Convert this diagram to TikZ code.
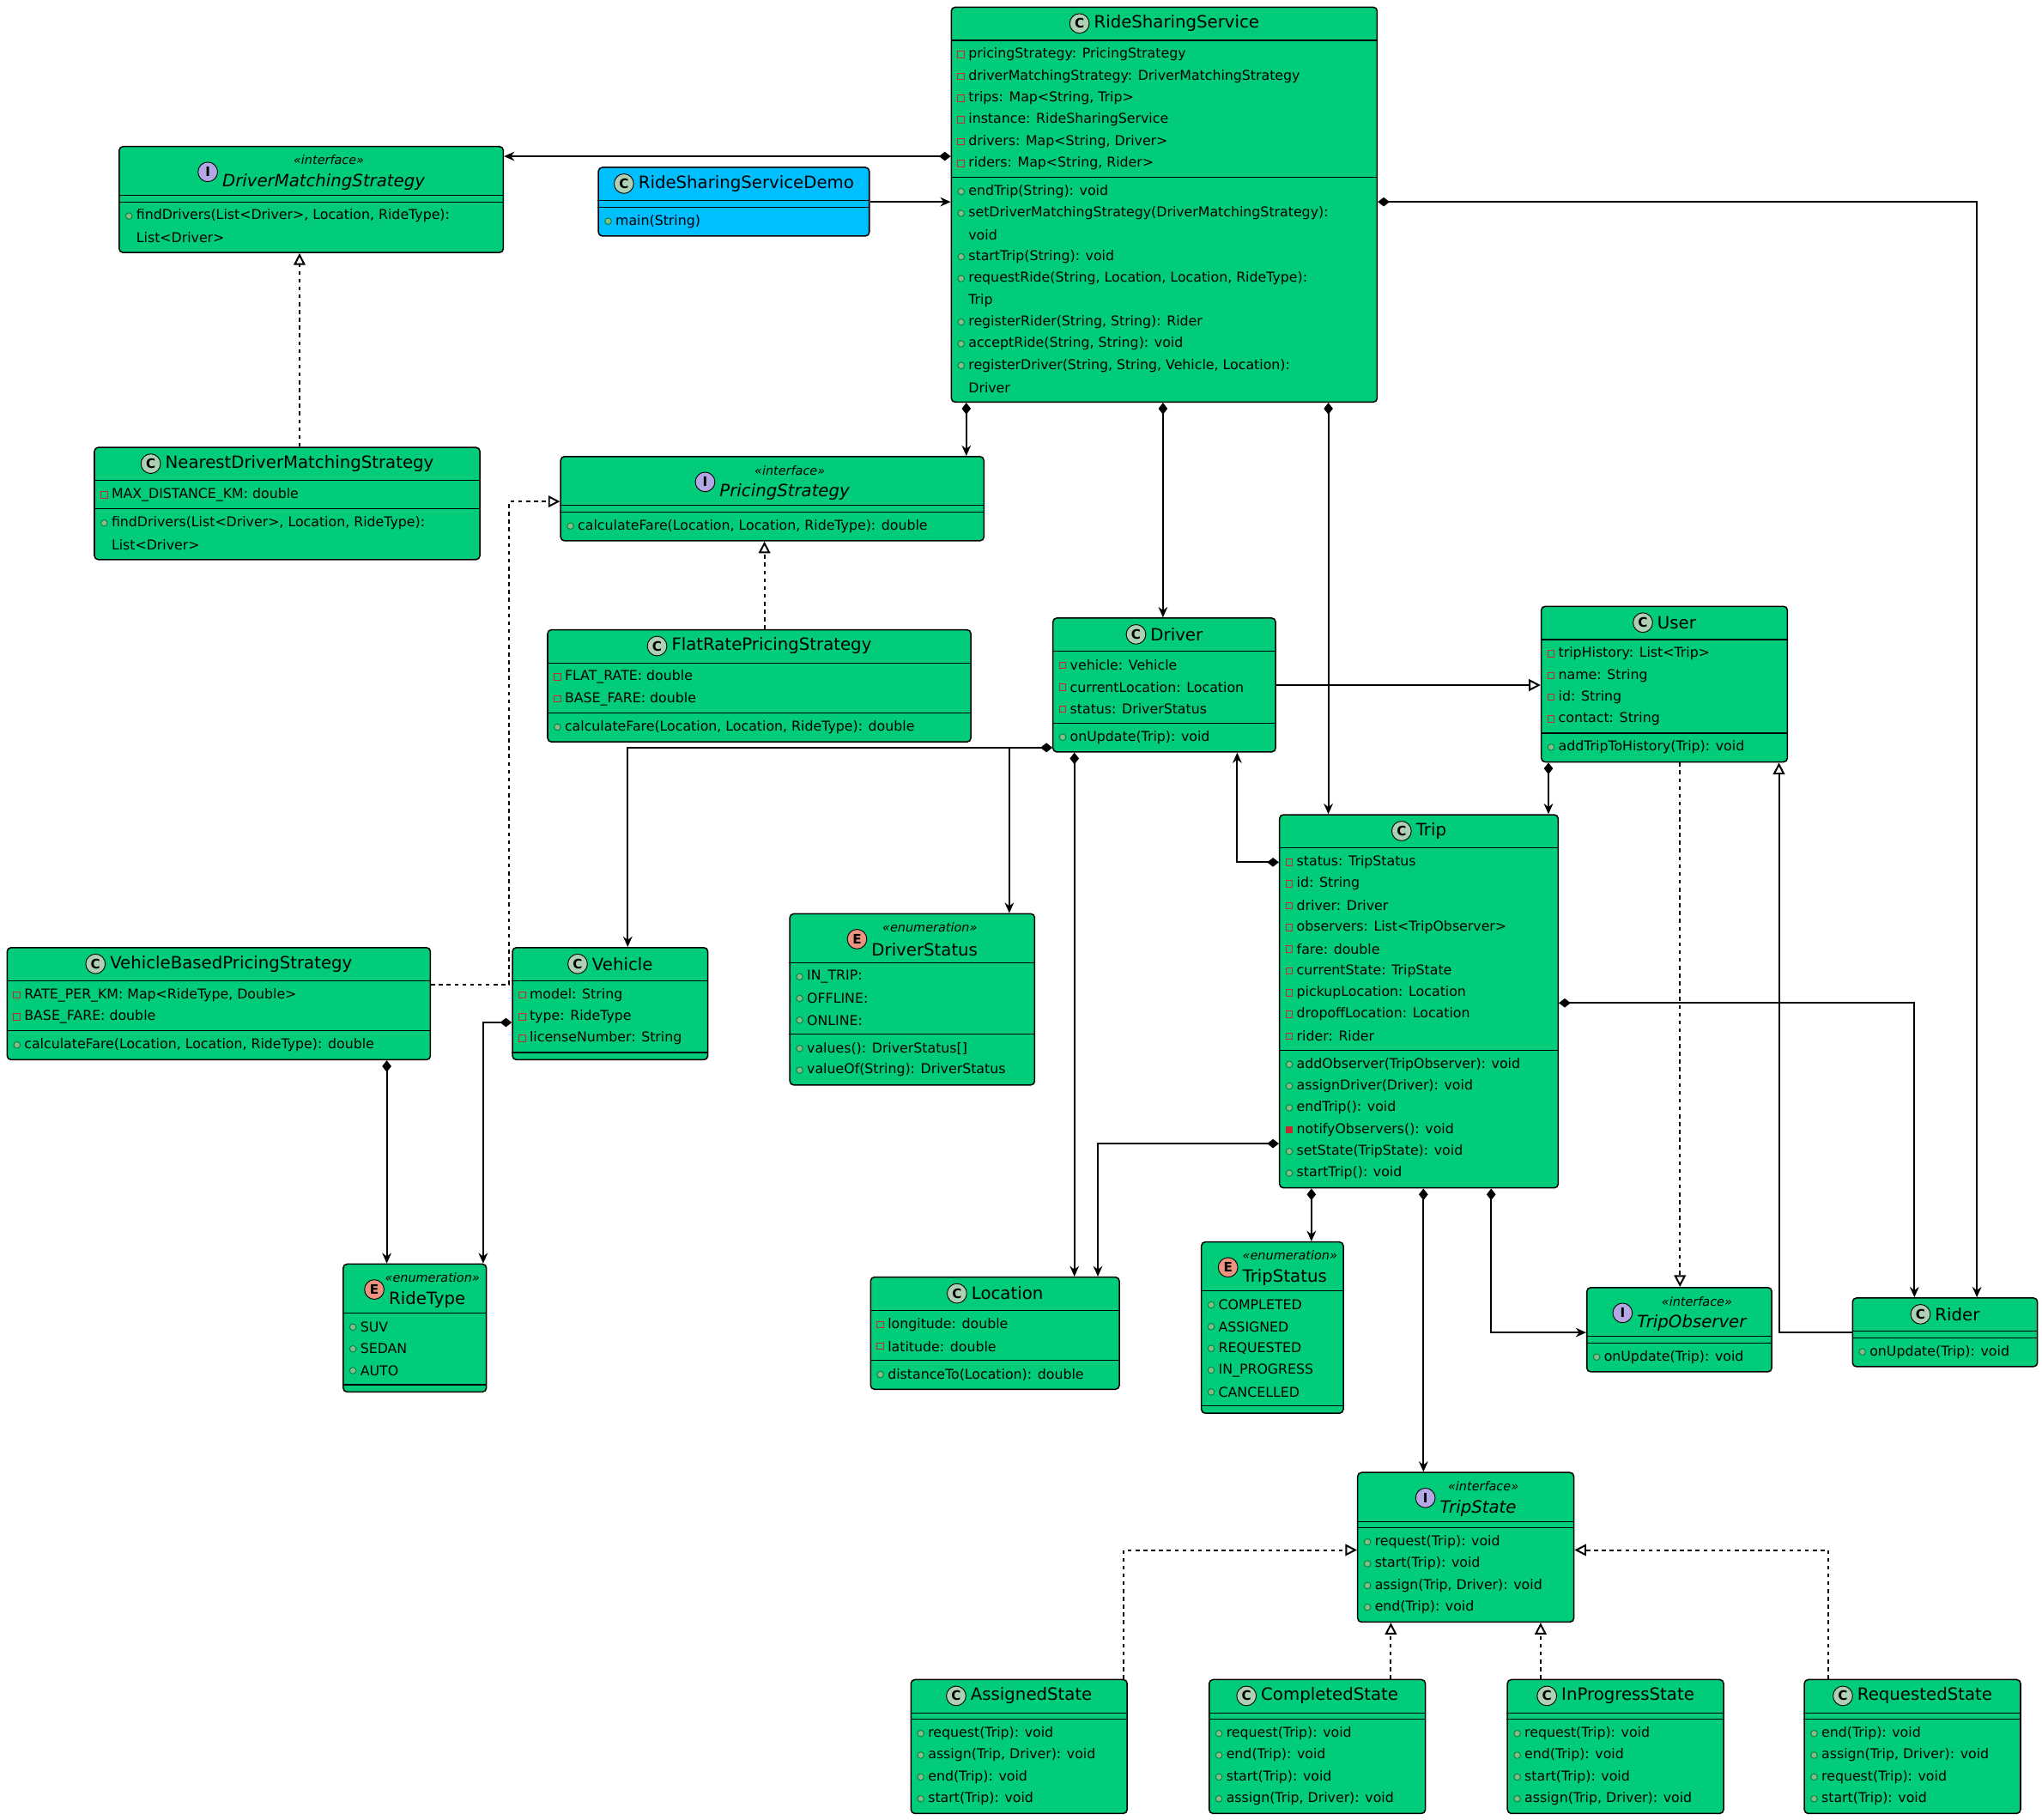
\documentclass[tikz,border=0pt]{standalone}
\usepackage{fontspec}
\setmainfont{DejaVu Sans}
\usetikzlibrary{arrows.meta,calc}
\definecolor{cfill}{HTML}{00CC7A}
\definecolor{dfill}{HTML}{00BFFF}
\definecolor{ciconc}{HTML}{ADD1B2}
\definecolor{iiconc}{HTML}{B4A7E5}
\definecolor{eiconc}{HTML}{EB937F}
\definecolor{privred}{HTML}{C82930}
\definecolor{pubgreen}{HTML}{038048}
\definecolor{pubfill}{HTML}{84BE84}
\def\pp{16.7}
\def\splitvis#1#2\relax{\gdef\mk{#1}\gdef\txt{#2}}
\tikzset{
 box/.style={draw, line width=1pt, rounded corners=3pt, inner sep=0pt},
 titlef/.style={font=\fontsize{13}{15}\selectfont, inner sep=0pt},
 stereof/.style={font=\fontsize{9.5}{11}\selectfont\itshape, inner sep=0pt},
 memf/.style={font=\fontsize{10.4}{12}\selectfont, inner sep=0pt, anchor=west},
 iconf/.style={circle, draw, line width=0.6pt, minimum size=15pt, inner sep=0pt, font=\fontsize{10}{12}\selectfont\bfseries},
 conn/.style={line width=1.3pt},
 comp/.style={conn, {Diamond[length=9pt,width=7pt]}-{Stealth[length=8pt,width=7pt]}},
 assoc/.style={conn, -{Stealth[length=8pt,width=7pt]}},
 real/.style={conn, dashed, -{Triangle[open,length=9pt,width=9pt,fill=white]}},
 inh/.style={conn, -{Triangle[open,length=9pt,width=9pt,fill=white]}},
}
\newcommand\cls[9]{%
 \if\relax\detokenize{#7}\relax\def\hh{26}\else\def\hh{38}\fi
 \gdef\na{0}\if\relax\detokenize{#8}\relax\else\foreach \t [count=\i] in {#8}{\xdef\na{\i}}\fi
 \gdef\nm{0}\if\relax\detokenize{#9}\relax\else\foreach \t [count=\i] in {#9}{\xdef\nm{\i}}\fi
 \pgfmathsetmacro\ya{#3+\hh}%
 \pgfmathsetmacro\yb{\ya+\na*\pp+5}%
 \pgfmathsetmacro\tot{\hh+\na*\pp+5+\nm*\pp+5}%
 \if D#5\def\fc{dfill}\def\il{C}\def\ic{ciconc}\else\def\fc{cfill}\def\il{#5}\def\ic{ciconc}\fi
 \if I#5\def\ic{iiconc}\def\tf{\itshape}\else\def\tf{}\fi
 \if E#5\def\ic{eiconc}\fi
 \node[box, fill=\fc, minimum width=#4pt, minimum height=\tot pt, anchor=north west] (#1) at (#2,#3) {};
 \draw[line width=0.8pt] (#2,\ya) -- ++(#4,0) (#2,\yb) -- ++(#4,0);
 \if\relax\detokenize{#7}\relax
   \pgfmathsetmacro\ty{#3+13}\pgfmathsetmacro\iy{#3+13}%
 \else
   \pgfmathsetmacro\ty{#3+28}\pgfmathsetmacro\iy{#3+20}%
   \node[stereof] at ({#2+#4/2+14},{#3+11}) {#7};
 \fi
 \node[titlef] (#1t) at ({#2+#4/2+10},\ty) {\tf #6};
 \path let \p1=(#1t.west) in node[iconf, fill=\ic] at (\x1-11pt,\iy) {\il};
 \if\relax\detokenize{#8}\relax\else
 \foreach \t [count=\i] in {#8}{%
   \expandafter\splitvis\t\relax
   \pgfmathsetmacro\yy{\ya+2.5+(\i-0.5)*\pp}%
   \if\mk-\draw[privred, line width=0.6pt] ({#2+5.5},{\yy-2.5}) rectangle ++(5,5);\fi
   \if\mk*\draw[privred, fill=privred, line width=0.6pt] ({#2+5.5},{\yy-2.5}) rectangle ++(5,5);\fi
   \if\mk+\draw[pubgreen, fill=pubfill, line width=0.6pt] ({#2+8},\yy) circle (2.5pt);\fi
   \node[memf] at ({#2+13.5},\yy) {\txt};
 }\fi
 \if\relax\detokenize{#9}\relax\else
 \foreach \t [count=\i] in {#9}{%
   \expandafter\splitvis\t\relax
   \pgfmathsetmacro\yy{\yb+2.5+(\i-0.5)*\pp}%
   \if\mk-\draw[privred, line width=0.6pt] ({#2+5.5},{\yy-2.5}) rectangle ++(5,5);\fi
   \if\mk*\draw[privred, fill=privred, line width=0.6pt] ({#2+5.5},{\yy-2.5}) rectangle ++(5,5);\fi
   \if\mk+\draw[pubgreen, fill=pubfill, line width=0.6pt] ({#2+8},\yy) circle (2.5pt);\fi
   \node[memf] at ({#2+13.5},\yy) {\txt};
 }\fi
}
\begin{document}
\begin{tikzpicture}[x=1pt,y=-1pt]
\fill[white] (0,0) rectangle (1568,1397);
\useasboundingbox (0,0) rectangle (1568,1397);

\cls{rss}{730}{5}{327}{C}{RideSharingService}{}{{-pricingStrategy: PricingStrategy},{-driverMatchingStrategy: DriverMatchingStrategy},{-trips: Map<String, Trip>},{-instance: RideSharingService},{-drivers: Map<String, Driver>},{-riders: Map<String, Rider>}}{{+endTrip(String): void},{+setDriverMatchingStrategy(DriverMatchingStrategy):},{.void},{+startTrip(String): void},{+requestRide(String, Location, Location, RideType):},{.Trip},{+registerRider(String, String): Rider},{+acceptRide(String, String): void},{+registerDriver(String, String, Vehicle, Location):},{.Driver}}
\cls{dms}{91}{112}{295}{I}{DriverMatchingStrategy}{«interface»}{}{{+findDrivers(List<Driver>, Location, RideType):},{.List<Driver>}}
\cls{demo}{459}{128}{208}{D}{RideSharingServiceDemo}{}{}{{+main(String)}}
\cls{nds}{72}{343}{296}{C}{NearestDriverMatchingStrategy}{}{{-MAX\_DISTANCE\_KM: double}}{{+findDrivers(List<Driver>, Location, RideType):},{.List<Driver>}}
\cls{ps}{430}{350}{325}{I}{PricingStrategy}{«interface»}{}{{+calculateFare(Location, Location, RideType): double}}
\cls{frps}{420}{483}{325}{C}{FlatRatePricingStrategy}{}{{-FLAT\_RATE: double},{-BASE\_FARE: double}}{{+calculateFare(Location, Location, RideType): double}}
\cls{driver}{808}{474}{171}{C}{Driver}{}{{-vehicle: Vehicle},{-currentLocation: Location},{-status: DriverStatus}}{{+onUpdate(Trip): void}}
\cls{user}{1183}{465}{189}{C}{User}{}{{-tripHistory: List<Trip>},{-name: String},{-id: String},{-contact: String}}{{+addTripToHistory(Trip): void}}
\cls{trip}{982}{625}{214}{C}{Trip}{}{{-status: TripStatus},{-id: String},{-driver: Driver},{-observers: List<TripObserver>},{-fare: double},{-currentState: TripState},{-pickupLocation: Location},{-dropoffLocation: Location},{-rider: Rider}}{{+addObserver(TripObserver): void},{+assignDriver(Driver): void},{+endTrip(): void},{*notifyObservers(): void},{+setState(TripState): void},{+startTrip(): void}}
\cls{vbps}{5}{727}{325}{C}{VehicleBasedPricingStrategy}{}{{-RATE\_PER\_KM: Map<RideType, Double>},{-BASE\_FARE: double}}{{+calculateFare(Location, Location, RideType): double}}
\cls{vehicle}{393}{727}{150}{C}{Vehicle}{}{{-model: String},{-type: RideType},{-licenseNumber: String}}{}
\cls{dstatus}{606}{701}{188}{E}{DriverStatus}{«enumeration»}{{+IN\_TRIP:},{+OFFLINE:},{+ONLINE:}}{{+values(): DriverStatus[]},{+valueOf(String): DriverStatus}}
\cls{ridetype}{263}{970}{110}{E}{RideType}{«enumeration»}{{+SUV},{+SEDAN},{+AUTO}}{}
\cls{location}{668}{980}{191}{C}{Location}{}{{-longitude: double},{-latitude: double}}{{+distanceTo(Location): double}}
\cls{tstatus}{922}{953}{109}{E}{TripStatus}{«enumeration»}{{+COMPLETED},{+ASSIGNED},{+REQUESTED},{+IN\_PROGRESS},{+CANCELLED}}{}
\cls{tobs}{1218}{988}{142}{I}{TripObserver}{«interface»}{}{{+onUpdate(Trip): void}}
\cls{rider}{1422}{996}{142}{C}{Rider}{}{}{{+onUpdate(Trip): void}}
\cls{tstate}{1042}{1130}{166}{I}{TripState}{«interface»}{}{{+request(Trip): void},{+start(Trip): void},{+assign(Trip, Driver): void},{+end(Trip): void}}
\cls{assigned}{699}{1289}{166}{C}{AssignedState}{}{}{{+request(Trip): void},{+assign(Trip, Driver): void},{+end(Trip): void},{+start(Trip): void}}
\cls{completed}{928}{1289}{166}{C}{CompletedState}{}{}{{+request(Trip): void},{+end(Trip): void},{+start(Trip): void},{+assign(Trip, Driver): void}}
\cls{inprog}{1157}{1289}{166}{C}{InProgressState}{}{}{{+request(Trip): void},{+end(Trip): void},{+start(Trip): void},{+assign(Trip, Driver): void}}
\cls{requested}{1385}{1289}{166}{C}{RequestedState}{}{}{{+end(Trip): void},{+assign(Trip, Driver): void},{+request(Trip): void},{+start(Trip): void}}

\coordinate (vbk) at (391,385);
\draw[comp] (rss.west |- 0,120) -- (dms.east |- 0,120);
\draw[assoc] (demo.east |- 0,155) -- (rss.west |- 0,155);
\draw[comp] (rss.east |- 0,155) -| (1518,0 |- rider.north);
\draw[comp] (742,0 |- rss.south) -- (742,0 |- ps.north);
\draw[comp] (893,0 |- rss.south) -- (893,0 |- driver.north);
\draw[comp] (1020,0 |- rss.south) -- (1020,0 |- trip.north);
\draw[real] (230,0 |- nds.north) -- (230,0 |- dms.south);
\draw[real] (587,0 |- frps.north) -- (587,0 |- ps.south);
\draw[real] (vbps.east |- 0,756) -| (vbk) -- (ps.west |- vbk);
\draw[inh] (driver.east |- 0,526) -- (user.west |- 0,526);
\draw[comp] (driver.west |- 0,574) -| (482,0 |- vehicle.north);
\draw[comp] (driver.west |- 0,574) -| (775,0 |- dstatus.north);
\draw[comp] (825,0 |- driver.south) -- (825,0 |- location.north);
\draw[comp] (trip.west |- 0,662) -| (950,0 |- driver.south);
\draw[comp] (1189,0 |- user.south) -- (1189,0 |- trip.north);
\draw[real] (1290,0 |- user.south) -- (1290,0 |- tobs.north);
\draw[comp] (trip.west |- 0,878) -| (843,0 |- location.north);
\draw[comp] (1007,0 |- trip.south) -- (1007,0 |- tstatus.north);
\draw[comp] (1093,0 |- trip.south) -- (1093,0 |- tstate.north);
\draw[comp] (1145,0 |- trip.south) |- (tobs.west |- 0,1023);
\draw[comp] (trip.east |- 0,770) -| (1470,0 |- rider.north);
\draw[inh] (rider.west |- 0,1023) -| (1366,0 |- user.south);
\draw[comp] (vehicle.west |- 0,785) -| (371,0 |- ridetype.north);
\draw[comp] (297,0 |- vbps.south) -- (297,0 |- ridetype.north);
\draw[real] (863,0 |- assigned.north) |- (tstate.west |- 0,1190);
\draw[real] (1068,0 |- completed.north) -- (1068,0 |- tstate.south);
\draw[real] (1183,0 |- inprog.north) -- (1183,0 |- tstate.south);
\draw[real] (1404,0 |- requested.north) |- (tstate.east |- 0,1190);
\end{tikzpicture}
\end{document}
